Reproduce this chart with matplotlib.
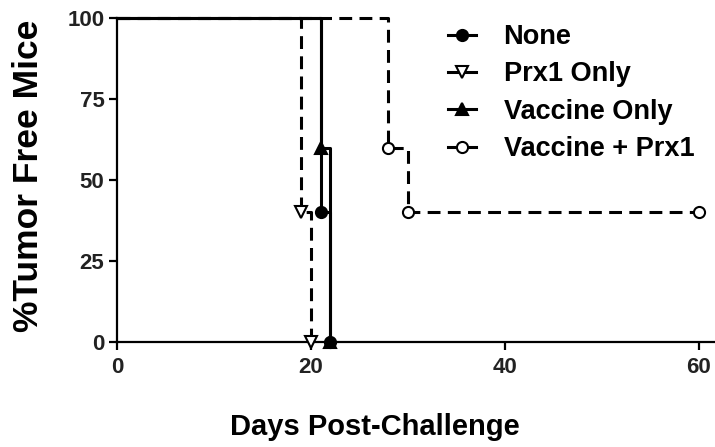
import matplotlib
matplotlib.use("Agg")
import matplotlib.pyplot as plt
from matplotlib.lines import Line2D

plt.rcParams['font.family'] = ['Liberation Sans', 'DejaVu Sans']

# Data (survival curves, % tumor free)
groups = ["None", "Prx1 Only", "Vaccine Only", "Vaccine + Prx1"]
days_none = [0, 21, 22]
surv_none = [100, 40, 0]
days_prx1 = [0, 19, 20]
surv_prx1 = [100, 40, 0]
days_vacc = [0, 21, 22]
surv_vacc = [100, 60, 0]
days_vp = [0, 28, 30, 60]
surv_vp = [100, 60, 40, 40]
xticks = [0, 20, 40, 60]
yticks = [0, 25, 50, 75, 100]

fig = plt.figure(figsize=(7.15, 4.47), dpi=100)
ax = fig.add_axes([117/715, 105/447, 1 - 117/715, 324/447])

lw = 2.2
dash = (0, (4.2, 2.4))
styles = [
    (days_none, surv_none, '-', 'o', 'black'),
    (days_prx1, surv_prx1, dash, 'v', 'white'),
    (days_vacc, surv_vacc, '-', '^', 'black'),
    (days_vp, surv_vp, dash, 'o', 'white'),
]
handles = []
for (d, s, ls, mk, mfc), name in zip(styles, groups):
    ax.step(d, s, where='post', color='black', lw=lw, ls=ls, clip_on=False, zorder=3)
    ax.plot(d[1:], s[1:], ls='none', marker=mk, ms=8, mfc=mfc, mec='black',
            mew=1.5, clip_on=False, zorder=4)
    handles.append(Line2D([], [], color='black', lw=lw, ls='-', marker=mk, ms=8,
                          mfc=mfc, mec='black', mew=1.5))

ax.set_xlim(0, 61.7)
ax.set_ylim(0, 100)
ax.set_xticks(xticks)
ax.set_yticks(yticks)
for sp in ['top', 'right']:
    ax.spines[sp].set_visible(False)
for sp in ['left', 'bottom']:
    ax.spines[sp].set_linewidth(1.6)
ax.tick_params(direction='out', length=6, width=1.6, labelsize=16, colors='black')
ax.tick_params(axis='x', pad=5)
ax.tick_params(axis='y', pad=3)
for lab in ax.get_xticklabels() + ax.get_yticklabels():
    lab.set_color('#222222')
    lab.set_fontweight('bold')

fig.text(375/715, 1 - 427/447, "Days Post-Challenge", ha='center', va='center',
         fontsize=21, fontweight='bold')
fig.text(29/715, 1 - 176/447, "%Tumor Free Mice", ha='center', va='center',
         rotation=90, fontsize=25.5, fontweight='bold')

fig.legend(handles, groups, loc='upper left', bbox_to_anchor=(448/715, 1 - 24/447),
           frameon=False, handlelength=1.05, handletextpad=1.0,
           labelspacing=0.42, borderpad=0, borderaxespad=0,
           prop={'size': 19.5, 'weight': 'bold'})

fig.savefig("out.png", dpi=100)
